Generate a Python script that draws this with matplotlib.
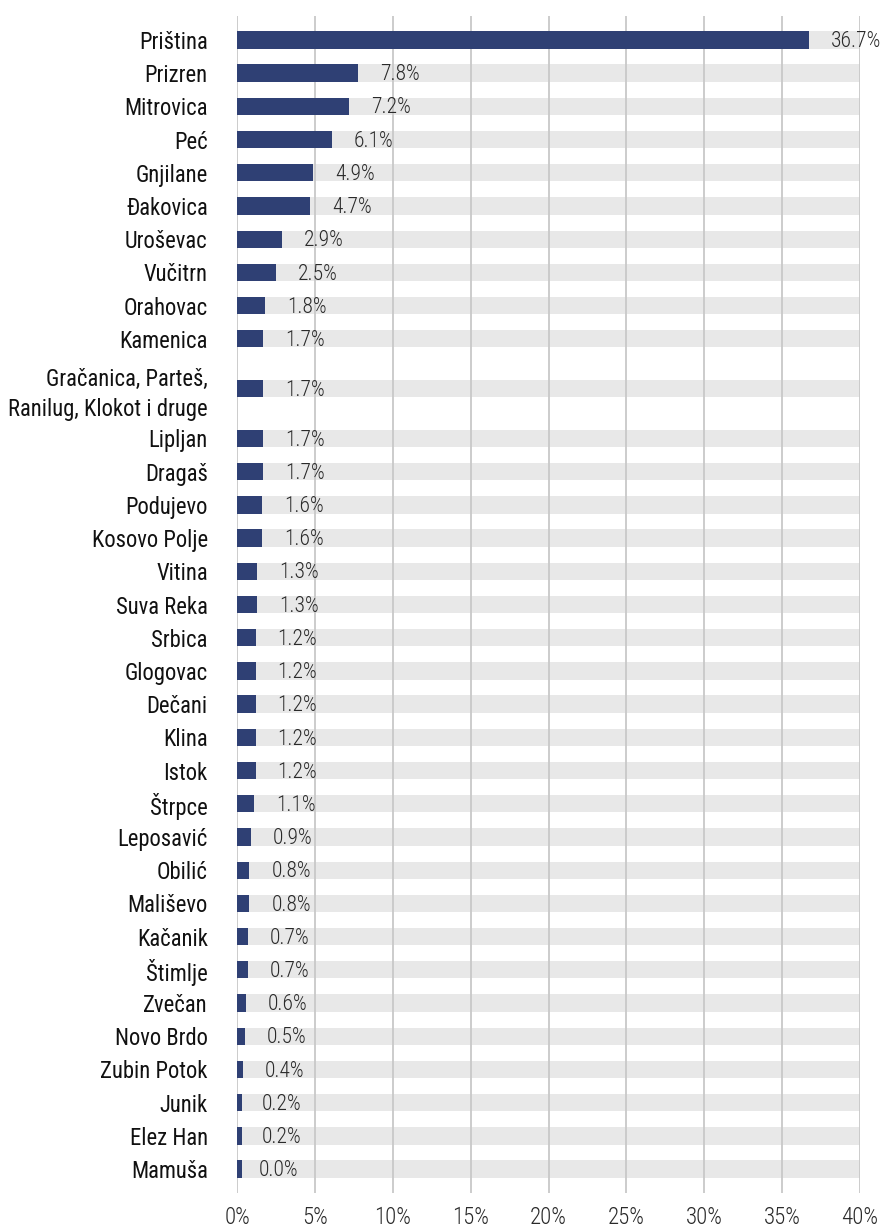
import matplotlib
matplotlib.use("Agg")
import matplotlib.pyplot as plt
from matplotlib import font_manager as fm
import numpy as np

categories = ["Priština", "Prizren", "Mitrovica", "Peć", "Gnjilane", "Đakovica",
              "Uroševac", "Vučitrn", "Orahovac", "Kamenica",
              "Gračanica, Parteš,\nRanilug, Klokot i druge", "Lipljan", "Dragaš",
              "Podujevo", "Kosovo Polje", "Vitina", "Suva Reka", "Srbica",
              "Glogovac", "Dečani", "Klina", "Istok", "Štrpce", "Leposavić",
              "Obilić", "Mališevo", "Kačanik", "Štimlje", "Zvečan", "Novo Brdo",
              "Zubin Potok", "Junik", "Elez Han", "Mamuša"]
values = [36.7, 7.8, 7.2, 6.1, 4.9, 4.7, 2.9, 2.5, 1.8, 1.7, 1.7, 1.7, 1.7, 1.6, 1.6,
          1.3, 1.3, 1.2, 1.2, 1.2, 1.2, 1.2, 1.1, 0.9, 0.8, 0.8, 0.7, 0.7, 0.6, 0.5,
          0.4, 0.2, 0.2, 0.0]
xticks = [0, 5, 10, 15, 20, 25, 30, 35, 40]
xticklabels = ["0%", "5%", "10%", "15%", "20%", "25%", "30%", "35%", "40%"]

names = {f.name for f in fm.fontManager.ttflist}
fam = "Roboto"
cat_size, val_size, tick_size = 14, 13, 14
for cand in ["Roboto Condensed", "Liberation Sans Narrow", "Arial Narrow"]:
    if cand in names:
        fam = cand
        cat_size, val_size, tick_size = 16.3, 15.5, 16.5
        break

NAVY = "#2f4074"
TRACK = "#e8e8e8"
GRID = "#c8c8c8"
MIN_VISIBLE = 0.3  # smallest drawn bar so tiny shares stay visible

W, H = 884, 1229
fig = plt.figure(figsize=(W / 100, H / 100), dpi=100)
ax = fig.add_axes([237 / W, 1 - 1193 / H, (860 - 237) / W, (1193 - 16) / H])

n = len(categories)
# the two-line category gets extra room
pos = []
y = 0.0
for i, c in enumerate(categories):
    if "\n" in c:
        y += 0.5
        pos.append(y)
        y += 0.5
    else:
        pos.append(y)
    y += 1.0
pos = np.array(pos)

bh = 0.52
ax.barh(pos, [40] * n, height=bh, color=TRACK, zorder=1)
for xv in xticks:
    ax.axvline(xv, color=GRID, lw=1.3, zorder=2)
ax.barh(pos, np.maximum(values, MIN_VISIBLE), height=bh, color=NAVY, zorder=3)

for p, v in zip(pos, values):
    ax.text(v + 1.4, p + 0.05, f"{v:.1f}%", ha="left", va="center", fontsize=val_size,
            family=fam, fontweight="light", color="#2a2a2a", zorder=4)

ax.set_xlim(0, 40)
ax.set_ylim(pos[-1] + 0.72, -0.72)
ax.set_yticks(pos)
ax.set_yticklabels(categories, family=fam, fontsize=cat_size, color="#111111",
                   linespacing=1.4)
ax.set_xticks(xticks)
ax.set_xticklabels(xticklabels, family=fam, fontsize=tick_size, fontweight="light",
                   color="#2a2a2a")
ax.tick_params(axis="y", length=0, pad=21)
ax.tick_params(axis="x", length=0, pad=9)
for s in ax.spines.values():
    s.set_visible(False)

fig.savefig("out.png", dpi=100)
